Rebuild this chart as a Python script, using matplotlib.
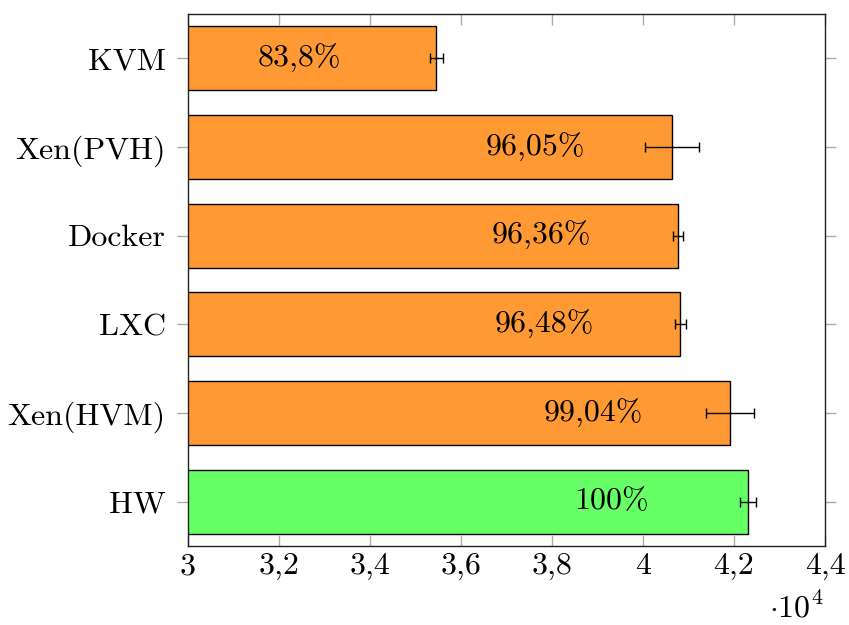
import matplotlib
matplotlib.use("Agg")
import matplotlib.pyplot as plt
from matplotlib.ticker import FuncFormatter

plt.rcParams['font.family'] = ['cmr10', 'DejaVu Serif']
plt.rcParams['mathtext.fontset'] = 'cm'
plt.rcParams['axes.formatter.use_mathtext'] = True
plt.rcParams['font.size'] = 23

# data, bottom to top
systems = ['HW', 'Xen(HVM)', 'LXC', 'Docker', 'Xen(PVH)', 'KVM']
values = [42309, 41906, 40821, 40770, 40638, 35458]
errors = [176, 527, 114, 117, 598, 150]
labels = ['100%', '99,04%', '96,48%', '96,36%', '96,05%', '83,8%']
colors = ['#66ff66', '#ff9933', '#ff9933', '#ff9933', '#ff9933', '#ff9933']

xticks = [30000, 32000, 34000, 36000, 38000, 40000, 42000, 44000]

fig = plt.figure(figsize=(8.49, 6.25), dpi=100)
ax = fig.add_axes([188/849, 1-546/625, (825-188)/849, (546-14)/625])

pos = list(range(len(systems)))
ax.barh(pos, values, height=0.72, color=colors, edgecolor='black', linewidth=1.0,
        xerr=errors, error_kw=dict(ecolor='black', elinewidth=1.0, capsize=3.8, capthick=1.0))

for p, v, lab in zip(pos, values, labels):
    ax.text(v - 3000, p, lab, ha='center', va='center', fontsize=23)

ax.set_xlim(30000, 44000)
ax.set_ylim(-0.5, 5.5)
ax.set_yticks(pos)
ax.set_yticklabels(systems)
ax.set_xticks(xticks)

def fmt(x, _):
    s = '%g' % (x / 1e4)
    return s.replace('.', ',')

ax.xaxis.set_major_formatter(FuncFormatter(fmt))

ax.tick_params(axis='x', direction='in', top=True, length=8, width=1.0, color='#aaaaaa', pad=5)
ax.tick_params(axis='y', direction='out', right=True, length=8, width=1.0, color='#aaaaaa', pad=8)
for s in ax.spines.values():
    s.set_linewidth(1.0)
    s.set_color('#222222')

fig.text(824/849, 2/625, r'$\cdot 10^{4}$', ha='right', va='bottom', fontsize=23)

fig.savefig('out.png', dpi=100)
